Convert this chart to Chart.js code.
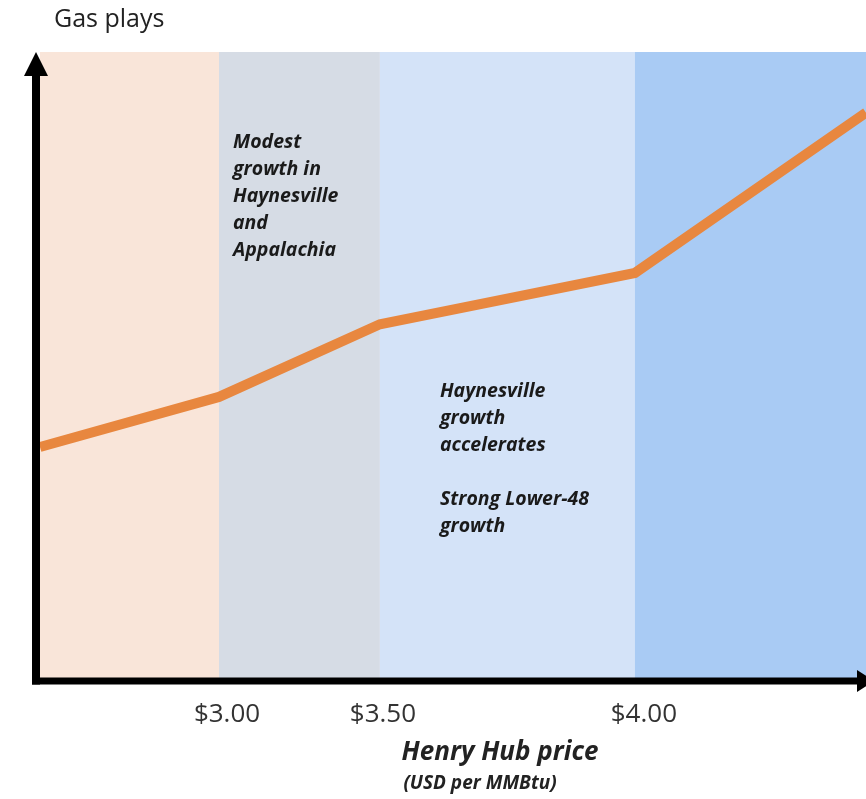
<!DOCTYPE html>
<html>
<head>
<meta charset="utf-8">
<script src="https://cdn.jsdelivr.net/npm/chart.js@4.4.1/dist/chart.umd.min.js"></script>
<style>
html,body{margin:0;padding:0;background:#fff;}
canvas{display:block;}
</style>
</head>
<body>
<canvas id="c" width="866" height="799"></canvas>
<script>
// Abstract x positions along the price axis (band edges / kink points)
const xPositions = [0, 1, 1.899, 3.324, 4.615];
// Gas plays output (relative index, 0-100)
const gasPlays = [36.9, 44.9, 56.5, 64.7, 90.3];
// Tick positions and labels (labels sit just right of the band edges)
const tickPositions = [1.045, 1.916, 3.374];
const tickLabels = ['$3.00', '$3.50', '$4.00'];
// Price regime bands
const bandStarts = [0, 1, 1.899, 3.324];
const bandEnds = [1, 1.899, 3.324, 4.615];
const bandColors = ['#F9E5D9', '#D6DCE5', '#D4E3F8', '#A9CBF4'];
// Annotations
const noteModest = ['Modest', 'growth in', 'Haynesville', 'and', 'Appalachia'];
const noteAccel = ['Haynesville', 'growth', 'accelerates', '', 'Strong Lower-48', 'growth'];
const yTitle = 'Gas plays';
const xTitle = 'Henry Hub price';
const xSubtitle = '(USD per MMBtu)';

const FONT = '"Open Sans", "Liberation Sans", sans-serif';

const decor = {
  id: 'decor',
  beforeDatasetsDraw(chart) {
    const ctx = chart.ctx, a = chart.chartArea, xs = chart.scales.x;
    ctx.save();
    for (let i = 0; i < bandStarts.length; i++) {
      const x0 = xs.getPixelForValue(bandStarts[i]);
      const x1 = xs.getPixelForValue(bandEnds[i]);
      ctx.fillStyle = bandColors[i];
      ctx.fillRect(x0, a.top, x1 - x0, a.bottom - a.top);
    }
    ctx.restore();
  },
  afterDatasetsDraw(chart) {
    const ctx = chart.ctx, a = chart.chartArea, xs = chart.scales.x;
    ctx.save();
    // axes
    ctx.fillStyle = '#000';
    ctx.strokeStyle = '#000';
    ctx.lineWidth = 8;
    ctx.beginPath();
    ctx.moveTo(a.left - 4, a.bottom + 6.5);
    ctx.lineTo(a.left - 4, a.top + 15);
    ctx.stroke();
    ctx.beginPath();
    ctx.moveTo(a.left - 4 - 12, a.top + 24);
    ctx.lineTo(a.left - 4, a.top);
    ctx.lineTo(a.left - 4 + 12, a.top + 24);
    ctx.closePath();
    ctx.fill();
    ctx.lineWidth = 7;
    ctx.beginPath();
    ctx.moveTo(a.left - 8, a.bottom + 3);
    ctx.lineTo(a.right - 8, a.bottom + 3);
    ctx.stroke();
    ctx.beginPath();
    ctx.moveTo(a.right - 9, a.bottom + 3 - 11);
    ctx.lineTo(a.right + 8, a.bottom + 3);
    ctx.lineTo(a.right - 9, a.bottom + 3 + 11);
    ctx.closePath();
    ctx.fill();

    // annotations
    ctx.fillStyle = '#1a1a1a';
    ctx.font = 'italic bold 19.5px ' + FONT;
    ctx.textBaseline = 'middle';
    ctx.textAlign = 'left';
    const x1 = xs.getPixelForValue(1) + 14;
    noteModest.forEach((t, i) => ctx.fillText(t, x1, 142 + i * 27));
    const x2 = xs.getPixelForValue(1.899) + 60;
    noteAccel.forEach((t, i) => ctx.fillText(t, x2, 391 + i * 27));

    // titles
    ctx.fillStyle = '#222';
    ctx.font = '25px ' + FONT;
    ctx.fillText(yTitle, 54, 20);
    ctx.textAlign = 'center';
    ctx.font = 'italic bold 26px ' + FONT;
    ctx.fillText(xTitle, 500, 753);
    ctx.font = 'italic bold 19px ' + FONT;
    ctx.fillText(xSubtitle, 480, 784);
    ctx.restore();
  }
};

new Chart(document.getElementById('c'), {
  type: 'line',
  data: {
    datasets: [{
      data: xPositions.map((x, i) => ({ x: x, y: gasPlays[i] })),
      borderColor: '#E8873F',
      borderWidth: 10,
      pointRadius: 0,
      tension: 0,
      fill: false,
      borderJoinStyle: 'miter',
      clip: false
    }]
  },
  options: {
    responsive: false,
    animation: false,
    layout: { padding: { left: 40, right: 0, top: 52, bottom: 0 } },
    plugins: { legend: { display: false }, tooltip: { enabled: false }, title: { display: false } },
    scales: {
      x: {
        type: 'linear',
        min: 0,
        max: 4.615,
        grid: { display: false, drawTicks: false },
        border: { display: false },
        afterBuildTicks(scale) { scale.ticks = tickPositions.map(v => ({ value: v })); },
        afterFit(scale) { scale.height = 121; },
        ticks: {
          padding: 21,
          autoSkip: false,
          maxRotation: 0,
          color: '#333',
          font: { family: FONT, size: 26 },
          callback(v) { const i = tickPositions.indexOf(v); return i >= 0 ? tickLabels[i] : ''; }
        }
      },
      y: { display: false, min: 0, max: 100 }
    }
  },
  plugins: [decor]
});
</script>
</body>
</html>
